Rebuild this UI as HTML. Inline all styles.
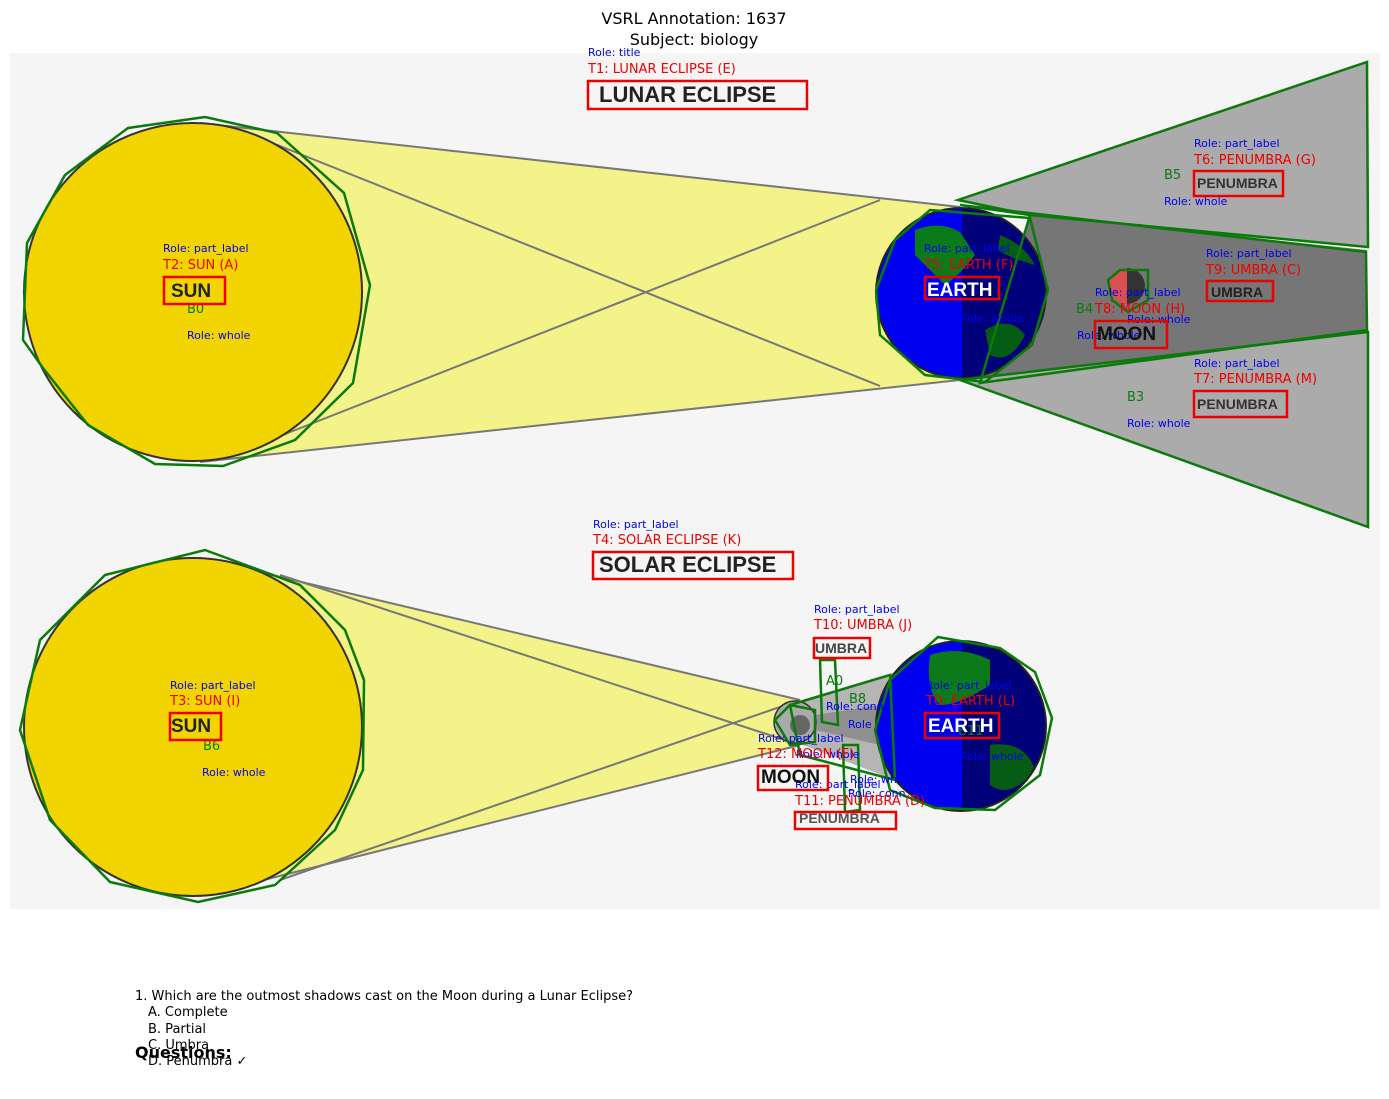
<!DOCTYPE html>
<html><head><meta charset="utf-8"><style>
body{margin:0;background:#fff;width:1389px;height:1094px;overflow:hidden}
.t{font-family:"DejaVu Sans","Liberation Sans",sans-serif}
.b{font-family:"Liberation Sans",sans-serif;font-weight:bold}
</style></head><body>
<svg width="1389" height="1094" viewBox="0 0 1389 1094" xmlns="http://www.w3.org/2000/svg" class="t">
<defs>
<clipPath id="e1"><circle cx="961" cy="293" r="85"/></clipPath>
<clipPath id="e2"><circle cx="961" cy="726" r="85"/></clipPath>
</defs>
<text x="694" y="24" font-size="16" text-anchor="middle">VSRL Annotation: 1637</text>
<text x="694" y="45" font-size="16" text-anchor="middle">Subject: biology</text>
<rect x="10" y="53" width="1370" height="856" fill="#f5f5f5"/>

<!-- LUNAR -->
<polygon points="200,123 960,207 960,380 200,462" fill="#f3f38a"/>
<line x1="200" y1="123" x2="960" y2="207" stroke="#777" stroke-width="2"/>
<line x1="200" y1="462" x2="960" y2="380" stroke="#777" stroke-width="2"/>
<line x1="270" y1="142" x2="880" y2="386" stroke="#777" stroke-width="2"/>
<line x1="270" y1="440" x2="880" y2="200" stroke="#777" stroke-width="2"/>
<polygon points="958,200 1367,62 1368,247 1030,215" fill="#ababab"/>
<polygon points="1030,215 1367,250 1367,332 980,380" fill="#767676"/>
<polygon points="960,380 1368,332 1368,527" fill="#ababab"/>
<circle cx="193" cy="292" r="169" fill="#f2d500" stroke="#333" stroke-width="2"/>
<g clip-path="url(#e1)">
<rect x="870" y="200" width="92" height="190" fill="#0000f0"/>
<rect x="962" y="200" width="92" height="190" fill="#00007a"/>
<path d="M915,230 Q940,220 960,232 L975,255 Q960,275 945,285 Q930,270 915,255Z" fill="#0a7a1a"/>
<path d="M985,330 Q1010,315 1025,335 Q1010,365 990,355Z" fill="#065c14"/>
<path d="M1000,235 Q1025,245 1035,265 Q1010,258 998,250Z" fill="#065c14"/>
</g>
<circle cx="961" cy="293" r="85" fill="none" stroke="#222" stroke-width="2"/>
<circle cx="1127" cy="286" r="18" fill="#333"/>
<path d="M1127,268 A18,18 0 0 0 1127,304Z" fill="#d95050"/>
<g fill="none" stroke="#0a7a0a" stroke-width="2.5">
<polygon points="128,128 205,117 277,133 344,193 370,285 353,383 295,440 223,466 155,464 88,425 43,368 23,340 27,243 65,175"/>
<polygon points="958,200 1367,62 1368,247 1030,215"/>
<polygon points="960,205 1366,252 1367,330 980,383 1030,215"/>
<polygon points="960,380 1368,332 1368,527"/>
<polygon points="930,210 1030,218 1048,290 1032,345 985,382 925,375 880,335 876,290 895,240"/>
<polygon points="1120,270 1148,270 1148,300 1128,312 1112,300 1108,280"/>
</g>
<g font-size="11" fill="#0000ee">
<text x="588" y="56">Role: title</text>
<text x="163" y="252">Role: part_label</text>
<text x="187" y="339">Role: whole</text>
<text x="924" y="252">Role: part_label</text>
<text x="960" y="322">Role: whole</text>
<text x="1194" y="147">Role: part_label</text>
<text x="1164" y="205">Role: whole</text>
<text x="1206" y="257">Role: part_label</text>
<text x="1095" y="296">Role: part_label</text>
<text x="1127" y="323">Role: whole</text>
<text x="1077" y="339">Role: whole</text>
<text x="1194" y="367">Role: part_label</text>
<text x="1127" y="427">Role: whole</text>
</g>
<g font-size="13" fill="#ee0000">
<text x="588" y="73">T1: LUNAR ECLIPSE (E)</text>
<text x="163" y="269">T2: SUN (A)</text>
<text x="924" y="269">T5: EARTH (F)</text>
<text x="1194" y="164">T6: PENUMBRA (G)</text>
<text x="1206" y="274">T9: UMBRA (C)</text>
<text x="1095" y="313">T8: MOON (H)</text>
<text x="1194" y="383">T7: PENUMBRA (M)</text>
</g>
<g font-size="13" fill="#0a7a0a">
<text x="187" y="313">B0</text>
<text x="1164" y="179">B5</text>
<text x="1076" y="313">B4</text>
<text x="1127" y="401">B3</text>
</g>
<text class="b" x="599" y="102" font-size="22" fill="#222">LUNAR ECLIPSE</text>
<text class="b" x="171" y="297" font-size="19" fill="#222">SUN</text>
<text class="b" x="927" y="296" font-size="19" fill="#fff">EARTH</text>
<text class="b" x="1197" y="188" font-size="14" fill="#333">PENUMBRA</text>
<text class="b" x="1211" y="297" font-size="14" fill="#222">UMBRA</text>
<text class="b" x="1097" y="340" font-size="19" fill="#111">MOON</text>
<text class="b" x="1197" y="409" font-size="14" fill="#333">PENUMBRA</text>
<g fill="none" stroke="#ee0000" stroke-width="2.5">
<rect x="588" y="81" width="219" height="28"/>
<rect x="164" y="277" width="61" height="27"/>
<rect x="925" y="277" width="74" height="22"/>
<rect x="1194" y="171" width="89" height="25"/>
<rect x="1207" y="281" width="66" height="20"/>
<rect x="1095" y="321" width="72" height="27"/>
<rect x="1194" y="391" width="93" height="26"/>
</g>

<!-- SOLAR -->
<polygon points="200,558 800,700 800,745 200,896" fill="#f3f38a"/>
<line x1="200" y1="558" x2="800" y2="700" stroke="#777" stroke-width="2"/>
<line x1="200" y1="896" x2="800" y2="745" stroke="#777" stroke-width="2"/>
<line x1="280" y1="575" x2="800" y2="745" stroke="#777" stroke-width="2"/>
<line x1="280" y1="880" x2="800" y2="700" stroke="#777" stroke-width="2"/>
<polygon points="795,702 895,672 895,780 795,742" fill="#b5b5b5"/>
<polygon points="815,715 880,705 880,745 815,730" fill="#909090"/>
<circle cx="193" cy="727" r="169" fill="#f2d500" stroke="#333" stroke-width="2"/>
<circle cx="795" cy="722" r="21" fill="#aaa" stroke="#333" stroke-width="1.5"/>
<circle cx="800" cy="725" r="10" fill="#666"/>
<g clip-path="url(#e2)">
<rect x="870" y="630" width="92" height="190" fill="#0000f0"/>
<rect x="962" y="630" width="92" height="190" fill="#00007a"/>
<path d="M930,655 Q960,645 990,660 L990,685 Q960,705 940,705 Q925,690 930,655Z" fill="#0a7a1a"/>
<path d="M990,745 Q1025,740 1035,770 Q1010,800 990,785Z" fill="#065c14"/>
</g>
<circle cx="961" cy="726" r="85" fill="none" stroke="#222" stroke-width="2"/>
<g fill="none" stroke="#0a7a0a" stroke-width="2.5">
<polygon points="105,575 205,550 300,585 345,630 364,680 363,770 335,830 275,885 198,902 110,882 50,820 20,730 40,640"/>
<polygon points="938,637 1000,648 1035,672 1052,718 1040,775 995,810 935,808 890,790 875,730 890,680"/>
<polygon points="790,705 890,675 895,780 800,755"/>
<polygon points="820,660 835,660 838,725 822,722"/>
<polygon points="843,745 858,745 860,810 845,812"/>
<polygon points="775,720 790,705 815,710 815,742 790,745"/>
</g>
<g font-size="11" fill="#0000ee">
<text x="593" y="528">Role: part_label</text>
<text x="170" y="689">Role: part_label</text>
<text x="202" y="776">Role: whole</text>
<text x="814" y="613">Role: part_label</text>
<text x="826" y="710">Role: conn</text>
<text x="848" y="728">Role</text>
<text x="926" y="689">Role: part_label</text>
<text x="960" y="760">Role: whole</text>
<text x="758" y="742">Role: part_label</text>
<text x="796" y="758">Role: whole</text>
<text x="850" y="783">Role: whole</text>
<text x="795" y="788">Role: part_label</text>
<text x="848" y="797">Role: conn</text>
</g>
<g font-size="13" fill="#ee0000">
<text x="593" y="544">T4: SOLAR ECLIPSE (K)</text>
<text x="170" y="705">T3: SUN (I)</text>
<text x="814" y="629">T10: UMBRA (J)</text>
<text x="926" y="705">T0: EARTH (L)</text>
<text x="758" y="758">T12: MOON (F)</text>
<text x="795" y="805">T11: PENUMBRA (D)</text>
</g>
<g font-size="13" fill="#0a7a0a">
<text x="203" y="750">B6</text>
<text x="826" y="685">A0</text>
<text x="849" y="703">B8</text>
<text x="958" y="735">B11</text>
</g>
<text class="b" x="599" y="572" font-size="22" fill="#222">SOLAR ECLIPSE</text>
<text class="b" x="171" y="732" font-size="19" fill="#222">SUN</text>
<text class="b" x="815" y="653" font-size="14" fill="#444">UMBRA</text>
<text class="b" x="928" y="732" font-size="19" fill="#fff">EARTH</text>
<text class="b" x="761" y="783" font-size="19" fill="#111">MOON</text>
<text class="b" x="799" y="823" font-size="14" fill="#555">PENUMBRA</text>
<g fill="none" stroke="#ee0000" stroke-width="2.5">
<rect x="593" y="552" width="200" height="27"/>
<rect x="170" y="713" width="51" height="27"/>
<rect x="814" y="638" width="56" height="20"/>
<rect x="925" y="713" width="74" height="25"/>
<rect x="758" y="766" width="70" height="24"/>
<rect x="795" y="812" width="101" height="17"/>
</g>

<g font-size="13" fill="#000">
<text x="135" y="1000">1. Which are the outmost shadows cast on the Moon during a Lunar Eclipse?</text>
<text x="148" y="1016">A. Complete</text>
<text x="148" y="1033">B. Partial</text>
<text x="148" y="1049">C. Umbra</text>
<text x="148" y="1065">D. Penumbra ✓</text>
</g>
<text x="135" y="1058" font-size="16" font-weight="bold">Questions:</text>
</svg>
</body></html>
